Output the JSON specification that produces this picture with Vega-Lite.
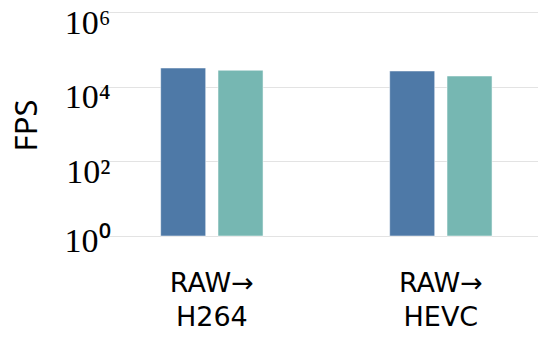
{
  "$schema": "https://vega.github.io/schema/vega-lite/v6.json",
  "width": 438,
  "height": 224,
  "autosize": {"type": "none"},
  "padding": {"left": 100, "top": 12, "right": 0, "bottom": 107},
  "background": "white",
  "config": {"view": {"stroke": null}},
  "data": {
    "values": [
      {"conversion": "RAW→ H264", "series": "A", "fps": 31600},
      {"conversion": "RAW→ H264", "series": "B", "fps": 27500},
      {"conversion": "RAW→ HEVC", "series": "A", "fps": 26300},
      {"conversion": "RAW→ HEVC", "series": "B", "fps": 19300}
    ]
  },
  "mark": {"type": "bar", "stroke": "white", "strokeWidth": 1, "strokeOpacity": 0.5},
  "encoding": {
    "x": {
      "field": "conversion",
      "type": "nominal",
      "sort": null,
      "scale": {"paddingInner": 0.553, "paddingOuter": 0.2328, "align": 0.569},
      "axis": {
        "title": null,
        "labelAngle": 0,
        "domain": false,
        "ticks": false,
        "tickSize": 0,
        "labelPadding": 34,
        "labelBaseline": "top",
        "labelFont": "DejaVu Sans",
        "labelFontSize": 27,
        "labelColor": "black",
        "labelLineHeight": 34,
        "labelExpr": "split(datum.label, ' ')"
      }
    },
    "xOffset": {
      "field": "series",
      "type": "nominal",
      "scale": {"paddingInner": 0.2147, "paddingOuter": 0}
    },
    "y": {
      "field": "fps",
      "type": "quantitative",
      "stack": null,
      "scale": {"type": "log", "domain": [1, 1000000], "nice": false},
      "axis": {
        "title": "FPS",
        "titleFont": "Noto Sans",
        "titleFontSize": 31,
        "titleFontWeight": "normal",
        "titleColor": "black",
        "titleAngle": 270,
        "titleX": -73,
        "titleY": 113,
        "titleAlign": "center",
        "titleBaseline": "middle",
        "values": [1, 100, 10000, 1000000],
        "grid": true,
        "gridColor": "#e3e3e3",
        "gridWidth": 1,
        "domain": false,
        "ticks": false,
        "tickSize": 0,
        "labelPadding": -10,
        "labelAlign": "right",
        "labelBaseline": "alphabetic",
        "labelOffset": {"condition": {"test": "datum.value <= 1", "value": 15}, "value": 21},
        "labelFont": "Liberation Serif",
        "labelFontSize": 34,
        "labelColor": "black",
        "labelOverlap": false,
        "labelFlush": false,
        "labelBound": false,
        "labelExpr": "'10' + (datum.value <= 1 ? '⁰' : datum.value <= 100 ? '²' : datum.value <= 10000 ? '⁴' : '⁶')"
      }
    },
    "color": {
      "field": "series",
      "type": "nominal",
      "scale": {"range": ["#4e79a7", "#76b7b2"]},
      "legend": null
    }
  }
}
